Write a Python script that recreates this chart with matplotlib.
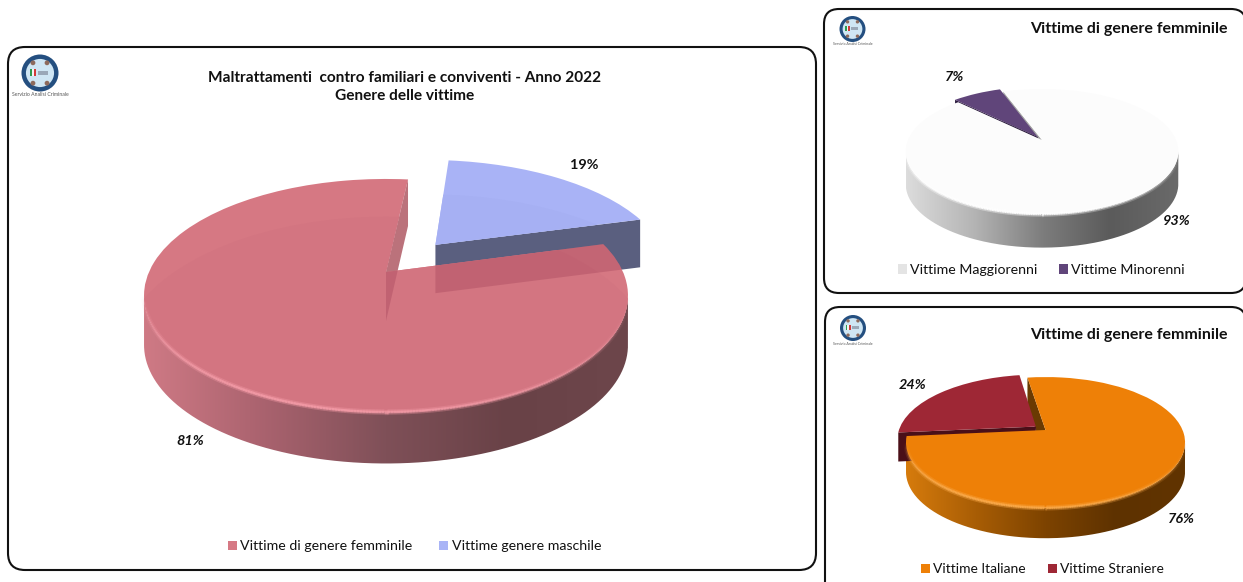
import numpy as np
import matplotlib
matplotlib.use("Agg")
import matplotlib.pyplot as plt
from matplotlib.collections import LineCollection
from matplotlib.colors import LinearSegmentedColormap, to_rgb
from matplotlib.legend import Legend
from matplotlib.patches import Circle, FancyBboxPatch, Patch, Polygon, Rectangle
from matplotlib.path import Path
from matplotlib.transforms import Transform

plt.rcParams["font.family"] = ["Lato", "DejaVu Sans"]

# Share of victims, in percent
gender_labels = ["Vittime di genere femminile", "Vittime genere maschile"]
gender_values = [81, 19]
age_labels = ["Vittime Maggiorenni", "Vittime Minorenni"]
age_values = [93, 7]
origin_labels = ["Vittime Italiane", "Vittime Straniere"]
origin_values = [76, 24]

main_title = "Maltrattamenti  contro familiari e conviventi - Anno 2022\nGenere delle vittime"
side_title = "Vittime di genere femminile"
logo_caption = "Servizio Analisi Criminale"

W, H = 1243, 582


class Tilt(Transform):
    """Perspective view of the unit disc, returning pixel coordinates."""
    input_dims = output_dims = 2
    is_separable = False
    has_inverse = False

    def __init__(self, cx, cy, a, b, k):
        super().__init__()
        self.cx, self.cy, self.a, self.b, self.k = cx, cy, a, b, k

    def transform_non_affine(self, values):
        values = np.asarray(values, dtype=float)
        w = 1 + self.k * values[:, 1]
        return np.column_stack((self.cx + self.a * values[:, 0] / w,
                                self.cy - self.b * values[:, 1] / w))


def extrude(tilt, xy, depth):
    """Top and bottom outlines of a chain of disc points pushed downward."""
    top = tilt.transform_non_affine(xy)
    bottom = top + np.column_stack((np.zeros(len(xy)), depth * (1 - 0.05 * xy[:, 1])))
    return top, bottom


def radial_wall(tilt, wedge, angle, depth):
    c = np.array(wedge.center)
    rim = c + [np.cos(np.radians(angle)), np.sin(np.radians(angle))]
    top, bottom = extrude(tilt, np.array([c, rim]), depth)
    return np.vstack((top, bottom[::-1]))


def draw_pie(ax, values, start, explode, colors, tilt, depth, ramp, rim_color, z):
    wedges, _ = ax.pie(values, startangle=start, explode=explode, colors=colors,
                       wedgeprops=dict(linewidth=0))
    for w in wedges:
        w.set_transform(tilt + ax.transData)
    body = wedges[0]
    body.set_zorder(z + 3)
    wedges[1].set_zorder(z + 5)

    # Curved front wall, shaded from left to right
    tangent = np.degrees(np.arcsin(tilt.k))
    lo = max(body.theta1 % 360, 180 + tangent)
    hi = 360 - tangent
    th = np.radians(np.linspace(lo, hi, 260))
    rim = np.column_stack((np.cos(th), np.sin(th)))
    top, bottom = extrude(tilt, rim, depth)
    outline = np.vstack((top, bottom[::-1]))
    cmap = LinearSegmentedColormap.from_list("wall", ramp)
    shade = ax.imshow(np.linspace(0, 1, 256)[None, :], cmap=cmap, aspect="auto",
                      extent=(outline[:, 0].min(), outline[:, 0].max(),
                              outline[:, 1].max() + 3, outline[:, 1].min() - 3),
                      interpolation="bilinear", zorder=z + 1)
    shade.set_clip_path(Path(outline), ax.transData)

    # Soft highlight along the front of the top surface
    segs = np.stack((top[:-1], top[1:]), axis=1)
    fade = np.sin(np.pi * np.linspace(0, 1, len(segs)) ** 0.75) ** 1.2
    for width, strength in [(3.8, 0.38), (1.8, 0.9)]:
        rgba = np.tile((*to_rgb(rim_color), 1.0), (len(segs), 1))
        rgba[:, 3] = strength * fade
        ax.add_collection(LineCollection(segs, colors=rgba, linewidths=width, zorder=z + 4))
    return wedges


def sheen(ax, wedge, tilt, color, z):
    """Slightly darker main area of a top surface, leaving a pale band at the back."""
    cx, cy = wedge.center
    disc = Circle((cx, cy - 0.45), 1.0, facecolor=color, edgecolor="none", zorder=z)
    ax.add_patch(disc)
    disc.set_transform(tilt + ax.transData)
    disc.set_clip_path(wedge)


def panel(ax, x0, y0, x1, y1, r):
    ax.add_patch(FancyBboxPatch((x0 + r, y0 + r), x1 - x0 - 2 * r, y1 - y0 - 2 * r,
                                boxstyle=f"round,pad={r},rounding_size={r}",
                                facecolor="white", edgecolor="#111111",
                                linewidth=1.5, zorder=1))


def logo(ax, cx, cy, r, caption_y, caption_size):
    ax.add_patch(Circle((cx, cy), r, facecolor="#244f80", edgecolor="none", zorder=2))
    ax.add_patch(Circle((cx, cy), r * 0.76, facecolor="#cfe6f4", edgecolor="none", zorder=3))
    for i, color in enumerate(["#2d9a50", "#f4f4f4", "#d23a3a"]):
        ax.add_patch(Rectangle((cx - r * 0.55 + i * r * 0.12, cy - r * 0.2), r * 0.12, r * 0.36,
                               facecolor=color, edgecolor="none", zorder=4))
    ax.add_patch(Rectangle((cx - r * 0.1, cy - r * 0.12), r * 0.55, r * 0.22,
                           facecolor="#9aa8b8", edgecolor="none", zorder=4))
    for dx, dy in [(-0.38, -0.55), (0.38, -0.55), (-0.38, 0.55), (0.38, 0.55)]:
        ax.add_patch(Circle((cx + dx * r, cy + dy * r), r * 0.13, facecolor="#8d6a5c",
                            edgecolor="none", zorder=4))
    ax.text(cx, caption_y, logo_caption, fontsize=caption_size, color="#555555",
            ha="center", va="center", zorder=4)


def legend(ax, colors, labels, x, y, size, gap):
    handles = [Patch(facecolor=c, edgecolor="none") for c in colors]
    lg = Legend(ax, handles, labels, loc="center", ncols=2, frameon=False, fontsize=size,
                bbox_to_anchor=(x, y), bbox_transform=ax.transData, handlelength=0.62,
                handleheight=0.62, handletextpad=0.25, columnspacing=gap, labelcolor="#111111",
                borderpad=0, borderaxespad=0)
    lg.set_zorder(30)
    ax.add_artist(lg)


fig = plt.figure(figsize=(W / 100, H / 100), dpi=100, facecolor="white")
ax = fig.add_axes([0, 0, 1, 1])

panel(ax, 8, 47, 816, 570, 17)
panel(ax, 824, 9, 1246, 293, 15)
panel(ax, 825, 307, 1246, 600, 15)

logo(ax, 40, 73, 18.5, 95, 3.7)
logo(ax, 852.5, 29, 13, 44, 2.6)
logo(ax, 853, 328, 13, 344, 2.6)

# Gender of the victims
tilt_a = Tilt(386, 272, 237, 111.8, 0.2016)
wall_a = 49
w_a = draw_pie(ax, gender_values, 83.6, [0, 0.337], ["#d67883", "#a9b3f6"], tilt_a, wall_a,
               ["#cf7a85", "#a9626e", "#7f5058", "#694247", "#6d464b"], "#f39aa6", 10)
w_a[1].set_zorder(11)
blue_wall = radial_wall(tilt_a, w_a[1], w_a[1].theta1, wall_a)
ax.add_patch(Polygon(blue_wall, closed=True, facecolor="#5a5f7f", edgecolor="none", zorder=10))
red_face = radial_wall(tilt_a, w_a[0], w_a[0].theta1, wall_a)
ax.add_patch(Polygon(red_face, closed=True, facecolor="#bb727b", edgecolor="none", zorder=12))
sheen(ax, w_a[0], tilt_a, "#d37581", 13.5)
sheen(ax, w_a[1], tilt_a, "#a6b0f3", 11.5)
# The slice behind shows through the translucent top surface
for quad in (blue_wall, red_face):
    over = Polygon(quad, closed=True, facecolor="#7a1a38", alpha=0.2, edgecolor="none", zorder=15)
    ax.add_patch(over)
    over.set_clip_path(w_a[0])

# Age of the female victims
tilt_b = Tilt(1042, 140, 134, 60.4, 0.184)
w_b = draw_pie(ax, age_values, 135, [0, 0.06], ["#fcfcfc", "#60457a"], tilt_b, 32,
               ["#dcdcdc", "#b4b4b4", "#7d7d7d", "#5b5b5b", "#6a6a6a"], "#ffffff", 10)
ax.add_patch(Polygon(radial_wall(tilt_b, w_b[0], w_b[1].theta1, 32), closed=True,
                     facecolor="#a4a4a4", edgecolor="none", zorder=11))
ax.add_patch(Polygon(radial_wall(tilt_b, w_b[1], w_b[1].theta2, 32), closed=True,
                     facecolor="#2a1a3c", edgecolor="none", zorder=12))

# Origin of the female victims
tilt_c = Tilt(1045.5, 430, 137, 63, 0.19)
w_c = draw_pie(ax, origin_values, 185.4, [0, 0.09], ["#ee8007", "#9e2735"], tilt_c, 29,
               ["#d67b0c", "#a85d05", "#7d4300", "#5e3200", "#613400"], "#fba948", 10)
ax.add_patch(Polygon(radial_wall(tilt_c, w_c[0], w_c[1].theta1, 29), closed=True,
                     facecolor="#6a3a02", edgecolor="none", zorder=11))
ax.add_patch(Polygon(radial_wall(tilt_c, w_c[1], w_c[1].theta2, 29), closed=True,
                     facecolor="#4a0f18", edgecolor="none", zorder=12))

# Titles
ax.text(405, 87, main_title, fontsize=11.1, fontweight="bold", ha="center", va="center",
        color="#111111", linespacing=1.42, zorder=30)
ax.text(1228, 29.5, side_title, fontsize=11.55, fontweight="bold", ha="right", va="center",
        color="#111111", zorder=30)
ax.text(1228, 334.5, side_title, fontsize=11.55, fontweight="bold", ha="right", va="center",
        color="#111111", zorder=30)

# Percentage labels
for value, x, y, style in [(gender_values[0], 190, 441, "italic"),
                           (gender_values[1], 584, 165, "normal"),
                           (age_values[1], 955, 77, "italic"),
                           (age_values[0], 1177, 221, "italic"),
                           (origin_values[1], 913, 385, "italic"),
                           (origin_values[0], 1181, 519, "italic")]:
    ax.text(x, y, f"{value}%", fontsize=10.4, fontweight="bold", fontstyle=style, color="#111111",
            ha="center", va="center", zorder=30)

# Legends
legend(ax, ["#d67984", "#a9b4f6"], gender_labels, 414.5, 546.5, 10.2, 1.9)
legend(ax, ["#e4e4e4", "#60457a"], age_labels, 1041.5, 270, 10.2, 1.5)
legend(ax, ["#ee8007", "#9e2735"], origin_labels, 1042.5, 569, 10.0, 1.6)

ax.set(xlim=(0, W), ylim=(H, 0), aspect="auto")
ax.set_axis_off()
fig.savefig("out.png", dpi=100)
